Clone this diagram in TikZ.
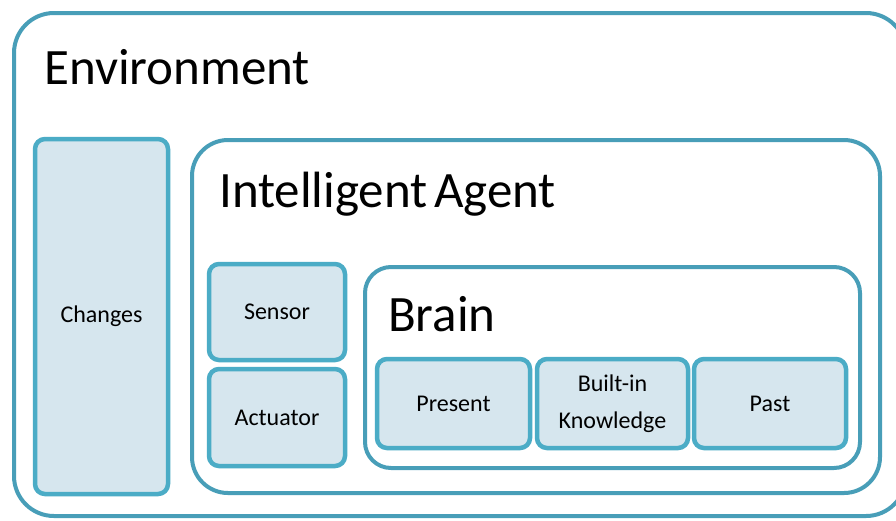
\documentclass[tikz,border=0pt]{standalone}
\usepackage{fontspec}
\setmainfont{Carlito}
\usepackage{xcolor}
\definecolor{rimblue}{HTML}{4BACC6}
\definecolor{frameblue}{HTML}{489EB8}
\definecolor{paleblue}{HTML}{D6E6EE}
\tikzset{
  framebox/.style={draw=frameblue,line width=4pt,fill=white},
  partbox/.style={draw=rimblue,line width=4.5pt,fill=paleblue,rounded corners=10pt,
    outer sep=0pt,inner sep=0pt,align=center,font=\fontsize{24}{37}\selectfont},
  title/.style={anchor=base west,inner sep=0pt,font=\fontsize{51}{54}\selectfont}
}

\begin{document}
\begin{tikzpicture}[x=1pt,y=-1pt]
    \useasboundingbox (0,0) rectangle (896,520);
    % outer frames
    \draw[framebox,rounded corners=40pt] (14,13) rectangle (906,516);
    \node[title] (envtitle) at (44,84) {Environment};
    \node[partbox,minimum width=133pt,minimum height=355pt] (changes) at (101.5,316.5) {Changes};
    \draw[framebox,rounded corners=36pt] (192,140) rectangle (880,493);
    \node[title] (agenttitle) at (219,207) {Intelligent\hspace{-0.1em} Agent};
    % sensor and actuator
    \node[partbox,minimum width=136pt,minimum height=96pt] (sensor) at (277,312) {Sensor};
    \node[partbox,minimum width=136pt,minimum height=97pt] (actuator) at (277,417.5) {Actuator};
    % brain
    \draw[framebox,rounded corners=26pt] (365,267) rectangle (860,468);
    \node[title] (braintitle) at (388,331) {Brain};
    \node[partbox,minimum width=153pt,minimum height=89pt] (present) at (453.5,403.5) {Present};
    \node[partbox,minimum width=151pt,minimum height=89pt] (knowledge) at (612.5,403.5) {Built-in\\Knowledge};
    \node[partbox,minimum width=152pt,minimum height=89pt] (past) at (770,403.5) {Past};
\end{tikzpicture}
\end{document}
